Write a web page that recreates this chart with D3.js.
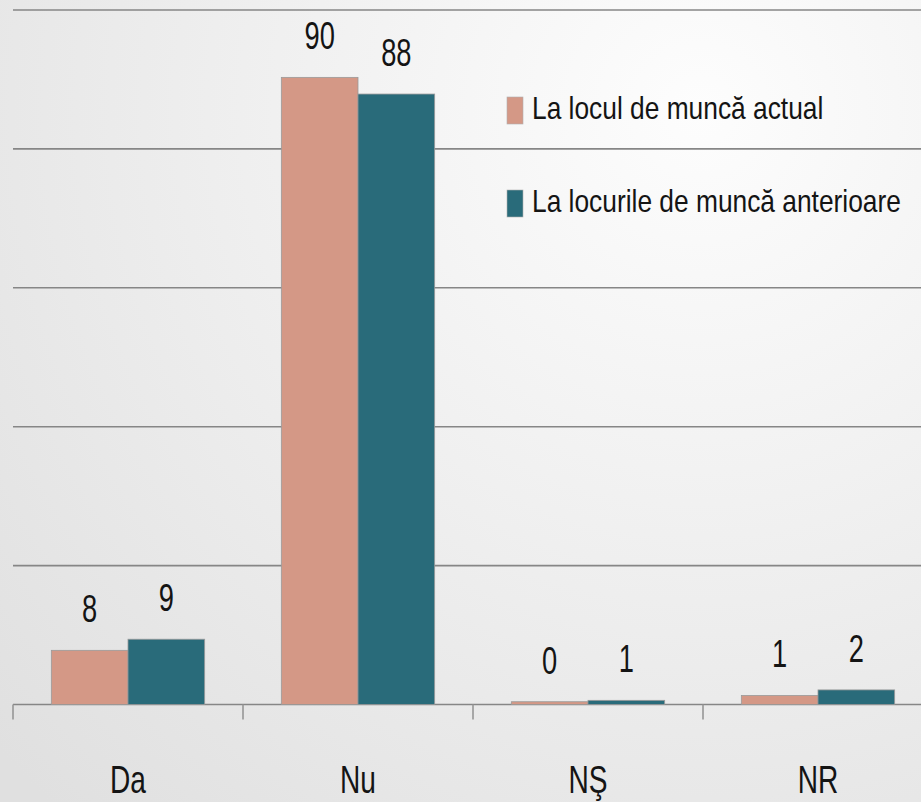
<!DOCTYPE html>
<meta charset="utf-8">
<script src="https://cdn.jsdelivr.net/npm/d3@7"></script>
<style>
 body { margin: 0; overflow: hidden; }
 svg { display: block; }
 text { font-family: "Liberation Sans", Arial, sans-serif; fill: #141414; }
</style>
<div id="container"></div>
<script>
 // data
 var categories = ["Da", "Nu", "NŞ", "NR"];
 var seriesNames = ["La locul de muncă actual", "La locurile de muncă anterioare"];
 var actual   = [7.8, 90.3, 0.4, 1.3];
 var previous = [9.4, 87.9, 0.6, 2.1];
 var yTicks = [0, 20, 40, 60, 80, 100];
 var colors = ["#d49886", "#296b7a"];

 var width = 921, height = 802;
 var margin = {top: 10, left: 13, bottom: 97};
 var plotRight = margin.left + 230 * categories.length;   // runs past the right edge

 var svg = d3.select("#container").append("svg")
     .attr("width", width)
     .attr("height", height);

 // soft grey background, lighter up to the right
 var grad = svg.append("defs").append("radialGradient")
     .attr("id", "bg")
     .attr("gradientUnits", "userSpaceOnUse")
     .attr("cx", 700).attr("cy", 110).attr("r", 950);
 grad.append("stop").attr("offset", "0%").attr("stop-color", "#fdfdfd");
 grad.append("stop").attr("offset", "100%").attr("stop-color", "#e0e0e0");
 svg.append("rect").attr("width", width).attr("height", height).attr("fill", "url(#bg)");

 var x = d3.scaleBand()
     .domain(categories)
     .range([margin.left, plotRight]);

 var xs = d3.scaleBand()
     .domain(d3.range(seriesNames.length))
     .range([0, x.bandwidth()])
     .paddingInner(0)
     .paddingOuter(0.5);

 var y = d3.scaleLinear()
     .domain([0, 100])
     .range([height - margin.bottom - 0.5, margin.top]);

 // gridlines
 svg.append("g").selectAll("line")
     .data(yTicks)
     .enter().append("line")
     .attr("x1", margin.left)
     .attr("x2", plotRight)
     .attr("y1", d => y(d))
     .attr("y2", d => y(d))
     .attr("stroke", "#868686")
     .attr("stroke-width", 1.6);

 // category boundary ticks
 svg.append("g").selectAll("line")
     .data(categories.concat([null]))
     .enter().append("line")
     .attr("x1", (d, i) => margin.left + i * x.step())
     .attr("x2", (d, i) => margin.left + i * x.step())
     .attr("y1", y(0))
     .attr("y2", y(0) + 15)
     .attr("stroke", "#969696")
     .attr("stroke-width", 1.6);

 var rows = categories.map((c, i) => ({cat: c, vals: [actual[i], previous[i]]}));

 var groups = svg.append("g").selectAll("g")
     .data(rows)
     .enter().append("g")
     .attr("transform", d => `translate(${x(d.cat)},0)`);

 groups.selectAll("rect")
     .data(d => d.vals.map((v, k) => ({v: v, k: k})))
     .enter().append("rect")
     .attr("x", d => xs(d.k))
     .attr("y", d => y(d.v))
     .attr("width", xs.bandwidth())
     .attr("height", d => y(0) - y(d.v))
     .attr("fill", d => colors[d.k])
     .attr("stroke", "#9a9a9a")
     .attr("stroke-width", 0.8);

 // value labels (condensed look via horizontal squeeze)
 groups.selectAll("text")
     .data(d => d.vals.map((v, k) => ({v: v, k: k})))
     .enter().append("text")
     .attr("transform", d => `translate(${xs(d.k) + xs.bandwidth() / 2},${y(d.v) - 28}) scale(0.7,1)`)
     .attr("text-anchor", "middle")
     .style("font-size", "39px")
     .text(d => Math.round(d.v));

 // category labels
 svg.append("g").selectAll("text")
     .data(categories)
     .enter().append("text")
     .attr("transform", d => `translate(${x(d) + x.bandwidth() / 2},${y(0) + 88}) scale(0.74,1)`)
     .attr("text-anchor", "middle")
     .style("font-size", "38px")
     .text(d => d);

 // legend
 var legend = svg.append("g").selectAll("g")
     .data(seriesNames)
     .enter().append("g")
     .attr("transform", (d, i) => `translate(507,${97 + i * 93})`);

 legend.append("rect")
     .attr("width", 16)
     .attr("height", 27)
     .attr("fill", (d, i) => colors[i])
     .attr("stroke", "#b0b0b0")
     .attr("stroke-width", 0.6);

 legend.append("text")
     .attr("transform", "translate(25,22) scale(0.85,1)")
     .style("font-size", "31px")
     .text(d => d);
</script>
